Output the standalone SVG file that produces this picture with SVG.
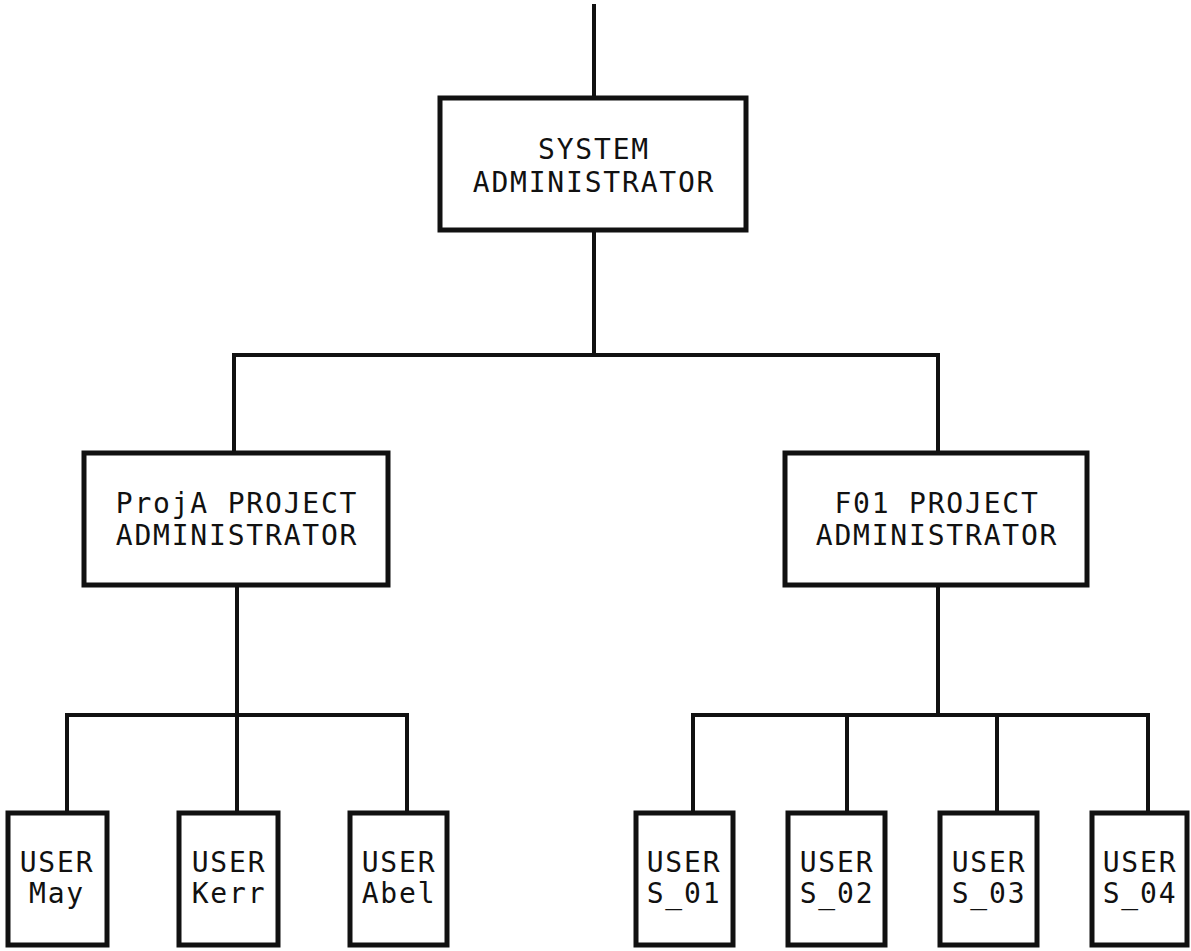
<svg xmlns="http://www.w3.org/2000/svg" width="1191" height="951" viewBox="0 0 1191 951">
  <style>
    .box { fill: #fff; stroke: #111; stroke-width: 5; }
    .wire { fill: none; stroke: #111; stroke-width: 4; stroke-linecap: square; }
    text { font-family: "DejaVu Sans Mono", "Liberation Mono", monospace; font-size: 28px; letter-spacing: 1.8px; fill: #111; text-anchor: middle; }
  </style>
  <rect width="1191" height="951" fill="#fff"/>

  <!-- hierarchy connectors -->
  <g id="connectors" class="wire">
    <path d="M594 6 V98"/>
    <path d="M594 230 V355 M234 355 H938 M234 355 V453 M938 355 V453"/>
    <path d="M237 585 V715 M67 715 H407 M67 715 V813 M237 715 V813 M407 715 V813"/>
    <path d="M938 585 V715 M693 715 H1148 M693 715 V813 M847 715 V813 M997 715 V813 M1148 715 V813"/>
  </g>

  <g id="system-admin">
    <rect class="box" x="440" y="98" width="306" height="132"/>
    <text x="594" y="159">SYSTEM</text>
    <text x="594" y="192">ADMINISTRATOR</text>
  </g>

  <g id="proja-admin">
    <rect class="box" x="84" y="453" width="304" height="132"/>
    <text x="237" y="513">ProjA PROJECT</text>
    <text x="237" y="545">ADMINISTRATOR</text>
  </g>

  <g id="f01-admin">
    <rect class="box" x="785" y="453" width="302" height="132"/>
    <text x="937" y="513">F01 PROJECT</text>
    <text x="937" y="545">ADMINISTRATOR</text>
  </g>

  <g id="user-may">
    <rect class="box" x="8" y="813" width="99" height="132"/>
    <text x="57" y="872">USER</text>
    <text x="57" y="903">May</text>
  </g>

  <g id="user-kerr">
    <rect class="box" x="179" y="813" width="99" height="132"/>
    <text x="229" y="872">USER</text>
    <text x="229" y="903">Kerr</text>
  </g>

  <g id="user-abel">
    <rect class="box" x="350" y="813" width="97" height="132"/>
    <text x="399" y="872">USER</text>
    <text x="399" y="903">Abel</text>
  </g>

  <g id="user-s01">
    <rect class="box" x="636" y="813" width="97" height="132"/>
    <text x="684" y="872">USER</text>
    <text x="684" y="903">S_01</text>
  </g>

  <g id="user-s02">
    <rect class="box" x="788" y="813" width="97" height="132"/>
    <text x="837" y="872">USER</text>
    <text x="837" y="903">S_02</text>
  </g>

  <g id="user-s03">
    <rect class="box" x="940" y="813" width="97" height="132"/>
    <text x="989" y="872">USER</text>
    <text x="989" y="903">S_03</text>
  </g>

  <g id="user-s04">
    <rect class="box" x="1092" y="813" width="95" height="132"/>
    <text x="1140" y="872">USER</text>
    <text x="1140" y="903">S_04</text>
  </g>
</svg>
